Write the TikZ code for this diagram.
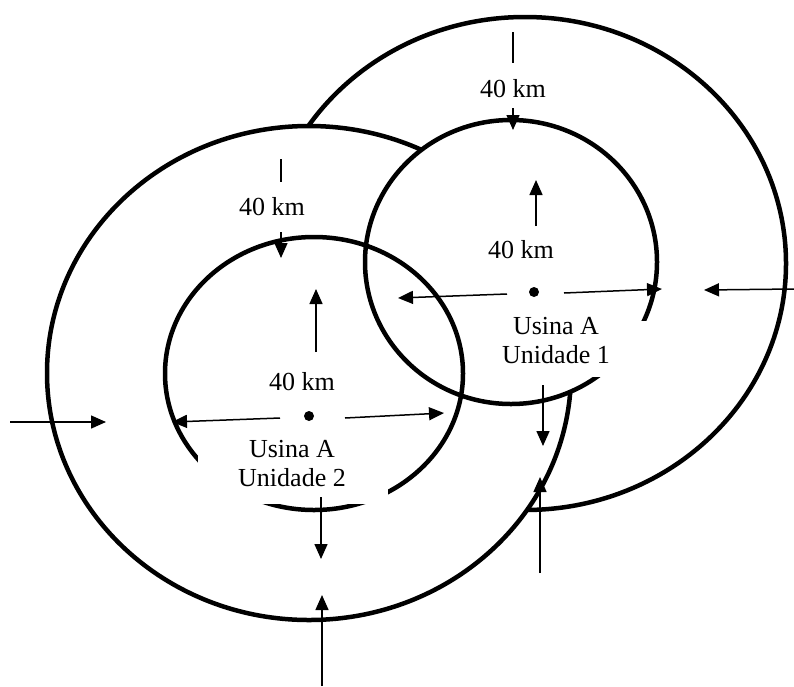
\documentclass[tikz,border=0pt]{standalone}
\usepackage{fontspec}
\setmainfont{Liberation Serif}
\usetikzlibrary{arrows.meta}
\begin{document}
\begin{tikzpicture}[x=1pt,y=-1pt,
  ring/.style={line width=4.5pt, fill=white},
  ringopen/.style={line width=4.5pt},
  arr/.style={line width=1.5pt, -{Triangle[length=15pt,width=13pt]}},
  tickline/.style={line width=1.5pt},
  lbl/.style={font=\fontsize{26}{29}\selectfont, inner sep=0pt, align=center},
  gap/.style={fill=white, draw=none},
  plant/.style={circle, fill=black, inner sep=0pt, minimum size=10pt}]
\useasboundingbox (0,0) rectangle (794,686);
% circles
\draw[ring] (525,263.5) ellipse [x radius=261pt, y radius=246.5pt];
\draw[ring] (309,373) ellipse [x radius=262pt, y radius=247pt];
\draw[ring] (511,262) ellipse [x radius=146pt, y radius=142pt];
\draw[ringopen] (314,373.5) ellipse [x radius=149pt, y radius=136.5pt];
% gaps behind labels
\fill[gap] (198,428) rectangle (388,504);
\fill[gap] (495,321) rectangle (649,377);
% plants
\node[plant] (p1) at (534,292) {};
\node[plant] (p2) at (309,416) {};
% labels
\node[lbl] (u1) at (556,340.6) {Usina A\\Unidade 1};
\node[lbl] (u2) at (292,463.6) {Usina A\\Unidade 2};
\node[lbl, anchor=base] (k1) at (513,97) {40 km};
\node[lbl, anchor=base] (k2) at (272,215) {40 km};
\node[lbl, anchor=base] (k3) at (521,258) {40 km};
\node[lbl, anchor=base] (k4) at (302,390) {40 km};
% coordinates
\coordinate (t1a) at (513,32);  \coordinate (t1b) at (513,63);
\coordinate (a1a) at (513,108); \coordinate (a1b) at (513,130);
\coordinate (t2a) at (281,159); \coordinate (t2b) at (281,182);
\coordinate (a2a) at (281,232); \coordinate (a2b) at (281,258);
\coordinate (a3a) at (536,226); \coordinate (a3b) at (536,180);
\coordinate (a4a) at (316,352); \coordinate (a4b) at (316,289);
\coordinate (l1a) at (507,294); \coordinate (l1b) at (398,298);
\coordinate (r1a) at (564,293); \coordinate (r1b) at (662,289);
\coordinate (l2a) at (280,418); \coordinate (l2b) at (172,422);
\coordinate (r2a) at (345,418); \coordinate (r2b) at (444,413);
\coordinate (d2a) at (321,497); \coordinate (d2b) at (321,559);
\coordinate (b2a) at (322,686); \coordinate (b2b) at (322,595);
\coordinate (d1a) at (543,385); \coordinate (d1b) at (543,446);
\coordinate (b1a) at (540,573); \coordinate (b1b) at (540,477);
\coordinate (wla) at (10,422);  \coordinate (wlb) at (106,422);
\coordinate (era) at (794,289); \coordinate (erb) at (704,290);
% ticks and arrows
\draw[tickline] (t1a) -- (t1b);
\draw[arr] (a1a) -- (a1b);
\draw[tickline] (t2a) -- (t2b);
\draw[arr] (a2a) -- (a2b);
\draw[arr] (a3a) -- (a3b);
\draw[arr] (a4a) -- (a4b);
\draw[arr] (l1a) -- (l1b);
\draw[arr] (r1a) -- (r1b);
\draw[arr] (l2a) -- (l2b);
\draw[arr] (r2a) -- (r2b);
\draw[arr] (d2a) -- (d2b);
\draw[arr] (b2a) -- (b2b);
\draw[arr] (d1a) -- (d1b);
\draw[arr] (b1a) -- (b1b);
\draw[arr] (wla) -- (wlb);
\draw[arr] (era) -- (erb);
\end{tikzpicture}
\end{document}
